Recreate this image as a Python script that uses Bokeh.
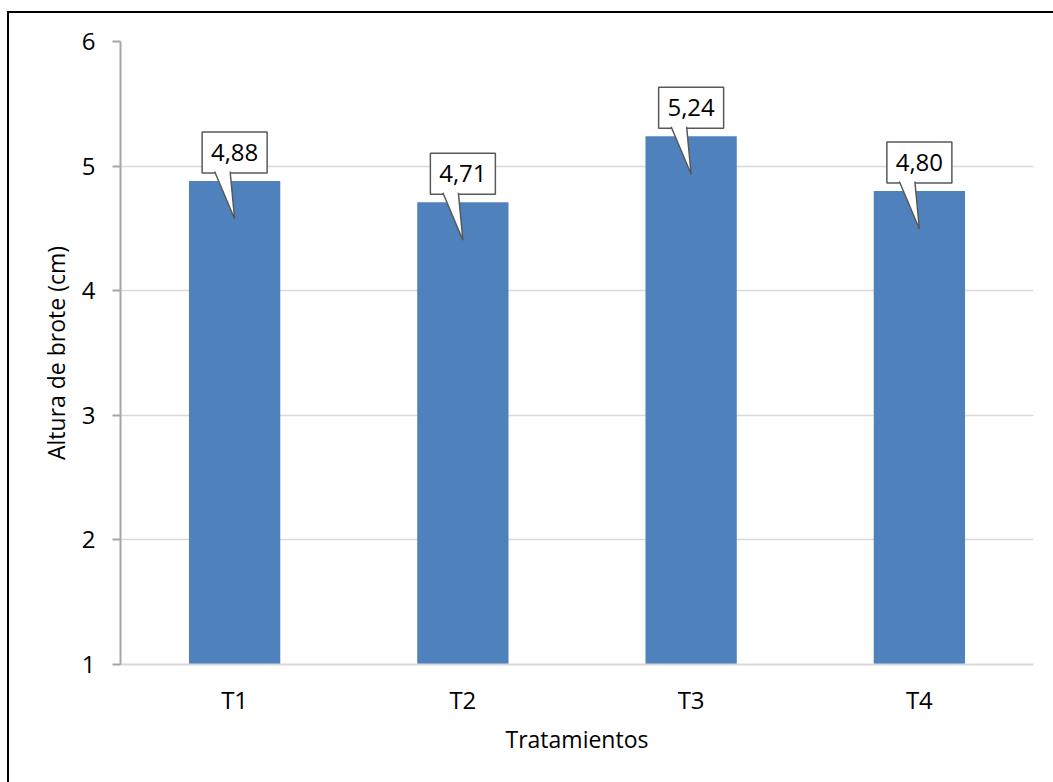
from bokeh.plotting import figure
from bokeh.models import Range1d, FixedTicker, InlineStyleSheet
from bokeh.core.properties import value
from bokeh.embed import file_html
from bokeh.resources import INLINE

# Shoot height per treatment
categories = ["T1", "T2", "T3", "T4"]
heights = [4.88, 4.71, 5.24, 4.80]
y_ticks = [1, 2, 3, 4, 5, 6]

FONT = "Open Sans"
NUM_SIZE = "24px"
TITLE_SIZE = "23px"
BAR_COLOR = "#4F81BD"

X_START, X_END = 0, len(categories)
Y_START, Y_END = 1, 6
FRAME_W, FRAME_H = 913, 623
SX = FRAME_W / (X_END - X_START)   # pixels per x unit
SY = FRAME_H / (Y_END - Y_START)   # pixels per y unit

# the chart sits inside a frame whose left/top edges lie at (8, 12) on the page
OFF_X, OFF_Y = 9, 13

p = figure(
    frame_width=FRAME_W, frame_height=FRAME_H,
    min_border_left=120 - OFF_X, min_border_right=30,
    min_border_top=41 - OFF_Y, min_border_bottom=120,
    x_range=Range1d(X_START, X_END), y_range=Range1d(Y_START, Y_END),
    output_backend="svg", toolbar_location=None,
)
p.margin = (OFF_Y - 2, 0, 0, OFF_X - 2)
p.stylesheets = [InlineStyleSheet(css=":host { border-left: 2px solid black; border-top: 2px solid black; border-right: none; border-bottom: none; }")]
p.outline_line_color = None
p.background_fill_color = "white"
p.border_fill_color = "white"

xs = [i + 0.5 for i in range(len(categories))]
labels = [f"{v:.2f}".replace(".", ",") for v in heights]

p.vbar(x=xs, top=heights, bottom=Y_START, width=0.4,
       fill_color=BAR_COLOR, line_color=None)

# Callout labels: box above the bar, pointer reaching down into it
gap, box_h, box_w = 8, 41, 65
box_y = [v + (gap + box_h / 2) / SY for v in heights]
p.rect(x=xs, y=box_y, width=box_w, height=box_h, width_units="screen", height_units="screen",
       fill_color="white", line_color="#595959", line_width=1.5)
ptr_xs, ptr_ys = [], []
for cx, v in zip(xs, heights):
    base = v + gap / SY
    ptr_xs.append([cx - 20 / SX, cx - 4.5 / SX, cx])
    ptr_ys.append([base + 1.5 / SY, base + 1.5 / SY, v - 38 / SY])
p.patches(ptr_xs, ptr_ys, fill_color="white", line_color=None)
p.multi_line([[a[0], a[2], a[1]] for a in ptr_xs],
             [[b[0], b[2], b[1]] for b in ptr_ys],
             line_color="#595959", line_width=1.5)
p.text(x=xs, y=box_y, text=labels,
       text_align="center", text_baseline="middle",
       text_font=value(FONT), text_font_size=NUM_SIZE, text_color="black")

# Axes
p.xaxis.ticker = FixedTicker(ticks=xs)
p.xaxis.major_label_overrides = {x: c for x, c in zip(xs, categories)}
p.xaxis.major_tick_line_color = None
p.xaxis.minor_tick_line_color = None
p.xaxis.axis_line_color = "#D9D9D9"
p.xaxis.axis_line_width = 2
p.xaxis.major_label_standoff = 12
p.xaxis.axis_label = "Tratamientos"
p.xaxis.axis_label_standoff = 4

p.yaxis.ticker = FixedTicker(ticks=y_ticks)
p.yaxis.minor_tick_line_color = None
p.yaxis.axis_line_color = "#A6A6A6"
p.yaxis.axis_line_width = 2
p.yaxis.major_tick_line_color = "#A6A6A6"
p.yaxis.major_tick_line_width = 2
p.yaxis.major_tick_out = 8
p.yaxis.major_tick_in = 0
p.yaxis.major_label_standoff = 17
p.yaxis.axis_label = "Altura de brote (cm)"
p.yaxis.axis_label_standoff = 7

for ax in (p.xaxis, p.yaxis):
    ax.major_label_text_font = FONT
    ax.major_label_text_font_size = NUM_SIZE
    ax.major_label_text_color = "black"
    ax.axis_label_text_font = FONT
    ax.axis_label_text_font_size = TITLE_SIZE
    ax.axis_label_text_font_style = "normal"
    ax.axis_label_text_color = "black"

p.xgrid.grid_line_color = None
p.ygrid.ticker = FixedTicker(ticks=y_ticks)
p.ygrid.grid_line_color = "#D9D9D9"
p.ygrid.grid_line_width = 1.5

open("out.html", "w").write(file_html(p, INLINE))
